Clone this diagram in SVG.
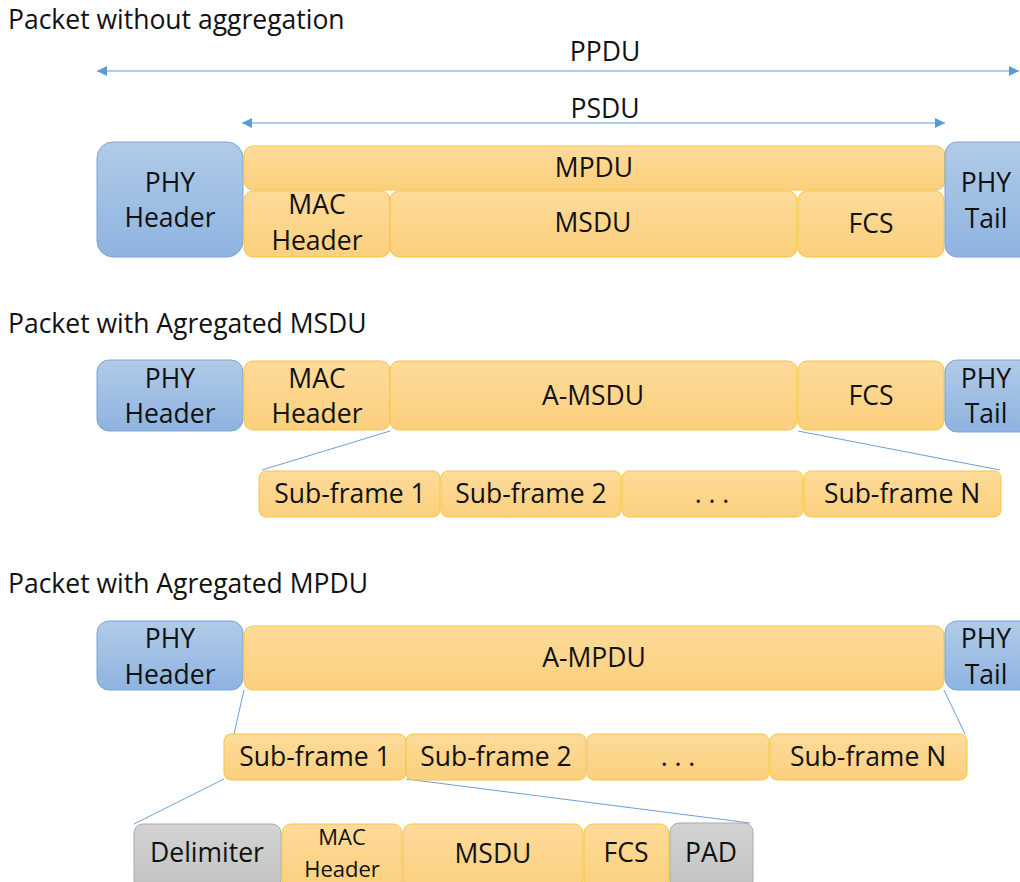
<svg xmlns="http://www.w3.org/2000/svg" width="1020" height="882" viewBox="0 0 1020 882">
<defs>
<linearGradient id="gOr" x1="0" y1="0" x2="0" y2="1"><stop offset="0" stop-color="#fedb9a"/><stop offset="1" stop-color="#fbd07d"/></linearGradient>
<linearGradient id="gBl" x1="0" y1="0" x2="0" y2="1"><stop offset="0" stop-color="#b1cbe8"/><stop offset="1" stop-color="#8eb3e0"/></linearGradient>
<linearGradient id="gGr" x1="0" y1="0" x2="0" y2="1"><stop offset="0" stop-color="#d3d3d3"/><stop offset="1" stop-color="#c2c2c2"/></linearGradient>
<marker id="ah" viewBox="0 0 10 10" refX="10" refY="5" markerWidth="10" markerHeight="10" markerUnits="userSpaceOnUse" orient="auto-start-reverse"><path d="M0,0 L10,5 L0,10 z" fill="#5b9bd5"/></marker>
<style>
text{font-family:"Open Sans","Liberation Sans",sans-serif;font-size:26.5px;fill:#111;}
.t{text-anchor:middle;}
.h{font-size:26.5px;}
.or{fill:url(#gOr);stroke:#f4c544;stroke-width:1;}
.bl{fill:url(#gBl);stroke:#7ea3d2;stroke-width:1;}
.gr{fill:url(#gGr);stroke:#a9a9a9;stroke-width:1;}
.ln{stroke:#6d9fd2;stroke-width:1;fill:none;}
.ar{stroke:#5b9bd5;stroke-width:1.2;fill:none;marker-start:url(#ah);marker-end:url(#ah);}
.sm{font-size:22px;}
</style>
</defs>
<rect width="1020" height="882" fill="#fff"/>
<text x="8" y="29" class="h">Packet without aggregation</text>
<text x="8" y="333" class="h">Packet with Agregated MSDU</text>
<text x="8" y="593" class="h">Packet with Agregated MPDU</text>

<g id="connectors">
<line class="ar" x1="97" y1="71" x2="1019" y2="71"/>
<line class="ar" x1="242" y1="123" x2="945" y2="123"/>
<line class="ln" x1="390" y1="431" x2="262" y2="470"/>
<line class="ln" x1="798" y1="431" x2="1000" y2="470"/>
<line class="ln" x1="244" y1="690" x2="234" y2="734"/>
<line class="ln" x1="944" y1="690" x2="965" y2="734"/>
<line class="ln" x1="224" y1="779" x2="134" y2="824"/>
<line class="ln" x1="406" y1="779" x2="750" y2="823"/>
</g>
<text x="605" y="61" class="t">PPDU</text>
<text x="605" y="118" class="t">PSDU</text>

<g id="s1-phy-header"><rect class="bl" x="97" y="142" width="146" height="115" rx="16"/><text x="170" y="192" class="t">PHY</text><text x="170" y="227" class="t">Header</text></g>
<g id="s1-mpdu"><rect class="or" x="244" y="146" width="701" height="44" rx="9"/><text x="594" y="177" class="t">MPDU</text></g>
<g id="s1-mac-header"><rect class="or" x="244" y="191" width="146" height="66" rx="9"/><text x="317" y="214" class="t">MAC</text><text x="317" y="250" class="t">Header</text></g>
<g id="s1-msdu"><rect class="or" x="390" y="191" width="407" height="66" rx="9"/><text x="593" y="232" class="t">MSDU</text></g>
<g id="s1-fcs"><rect class="or" x="798" y="191" width="146" height="66" rx="9"/><text x="871" y="233" class="t">FCS</text></g>
<g id="s1-phy-tail"><rect class="bl" x="945" y="142" width="90" height="115" rx="12"/><text x="986" y="192" class="t">PHY</text><text x="986" y="228" class="t">Tail</text></g>

<g id="s2-phy-header"><rect class="bl" x="97" y="360" width="146" height="71" rx="12"/><text x="170" y="388" class="t">PHY</text><text x="170" y="423" class="t">Header</text></g>
<g id="s2-mac-header"><rect class="or" x="244" y="361" width="146" height="69" rx="9"/><text x="317" y="388" class="t">MAC</text><text x="317" y="423" class="t">Header</text></g>
<g id="s2-amsdu"><rect class="or" x="390" y="361" width="407" height="69" rx="9"/><text x="593" y="405" class="t">A-MSDU</text></g>
<g id="s2-fcs"><rect class="or" x="798" y="361" width="146" height="69" rx="9"/><text x="871" y="405" class="t">FCS</text></g>
<g id="s2-phy-tail"><rect class="bl" x="945" y="360" width="90" height="72" rx="12"/><text x="986" y="388" class="t">PHY</text><text x="986" y="423" class="t">Tail</text></g>

<g id="s2-sf1"><rect class="or" x="259" y="471" width="181" height="46" rx="7"/><text x="350" y="503" class="t">Sub-frame 1</text></g>
<g id="s2-sf2"><rect class="or" x="441" y="471" width="180" height="46" rx="7"/><text x="531" y="503" class="t">Sub-frame 2</text></g>
<g id="s2-dots"><rect class="or" x="622" y="471" width="181" height="46" rx="7"/><text x="712" y="503" class="t">. . .</text></g>
<g id="s2-sfn"><rect class="or" x="804" y="471" width="197" height="46" rx="7"/><text x="902" y="503" class="t">Sub-frame N</text></g>

<g id="s3-phy-header"><rect class="bl" x="97" y="621" width="146" height="69" rx="12"/><text x="170" y="648" class="t">PHY</text><text x="170" y="684" class="t">Header</text></g>
<g id="s3-ampdu"><rect class="or" x="244" y="626" width="700" height="64" rx="9"/><text x="594" y="667" class="t">A-MPDU</text></g>
<g id="s3-phy-tail"><rect class="bl" x="945" y="621" width="90" height="69" rx="12"/><text x="986" y="648" class="t">PHY</text><text x="986" y="684" class="t">Tail</text></g>

<g id="s3-sf1"><rect class="or" x="224" y="734" width="182" height="46" rx="7"/><text x="315" y="766" class="t">Sub-frame 1</text></g>
<g id="s3-sf2"><rect class="or" x="406" y="734" width="180" height="46" rx="7"/><text x="496" y="766" class="t">Sub-frame 2</text></g>
<g id="s3-dots"><rect class="or" x="587" y="734" width="182" height="46" rx="7"/><text x="678" y="766" class="t">. . .</text></g>
<g id="s3-sfn"><rect class="or" x="770" y="734" width="197" height="46" rx="7"/><text x="868" y="766" class="t">Sub-frame N</text></g>

<g id="s3-delimiter"><rect class="gr" x="134" y="824" width="147" height="66" rx="9"/><text x="207" y="862" class="t">Delimiter</text></g>
<g id="s3-mac-header"><rect class="or" x="282" y="824" width="120" height="66" rx="9"/><text x="342" y="845" class="t sm">MAC</text><text x="342" y="877" class="t sm">Header</text></g>
<g id="s3-msdu"><rect class="or" x="403" y="824" width="180" height="66" rx="9"/><text x="493" y="863" class="t">MSDU</text></g>
<g id="s3-fcs"><rect class="or" x="584" y="824" width="85" height="66" rx="9"/><text x="626" y="862" class="t">FCS</text></g>
<g id="s3-pad"><rect class="gr" x="670" y="823" width="83" height="67" rx="9"/><text x="711" y="862" class="t">PAD</text></g>
</svg>
